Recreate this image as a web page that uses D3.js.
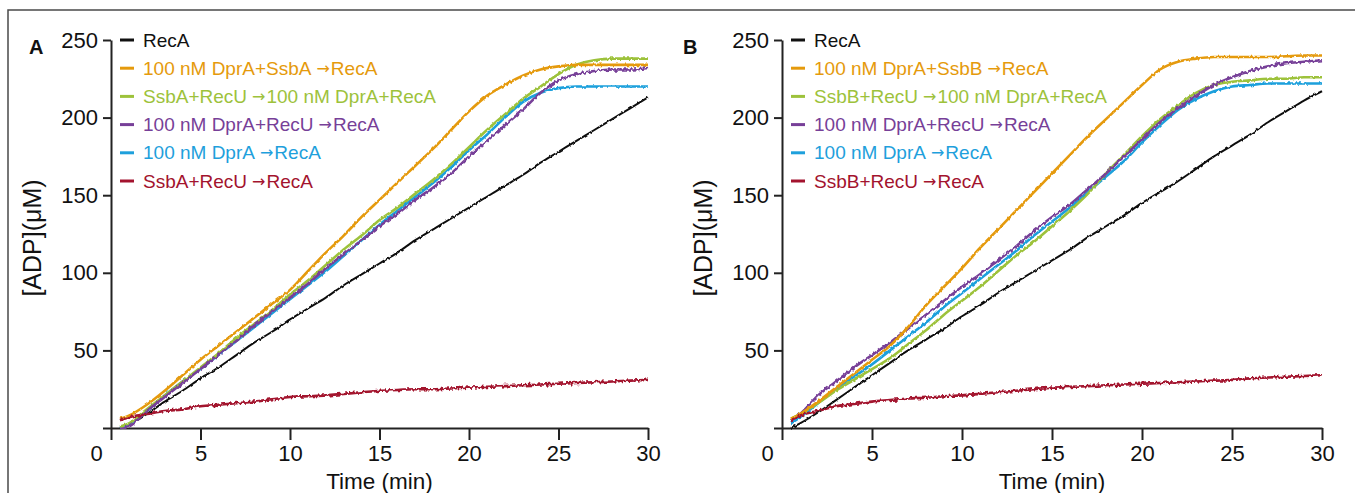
<!DOCTYPE html>
<html>
<head>
<meta charset="utf-8">
<script src="https://cdn.jsdelivr.net/npm/d3@7"></script>
<style>
  html, body { margin: 0; padding: 0; background: #fff; }
  svg text { font-family: "Liberation Sans", Arial, sans-serif; }
</style>
</head>
<body>
<div id="chart"></div>
<script>
// time grid (min) shared by every trace
const times = [0.5, 1, 2, 3, 4, 5, 6, 7, 8, 9, 10, 11, 12, 13, 14, 15, 16, 17, 18, 19, 20, 21, 22, 23, 24, 25, 26, 27, 28, 29, 30];

// panel A, [ADP] in uM
const recA_A   = [0, 2, 9, 17, 24, 32, 39, 47, 55, 62, 70, 77, 84, 92, 99, 106, 113, 121, 128, 135, 142, 149, 156, 163, 171, 178, 185, 192, 199, 206, 213];
const orange_A = [6, 8, 15, 24, 34, 44, 53, 62, 71, 80, 89, 101, 113, 124, 136, 147, 158, 169, 180, 192, 204, 214, 221, 227, 231, 233, 234, 234, 234, 234, 234];
const green_A  = [1, 3, 12, 21, 30, 39, 48, 58, 67, 76, 86, 95, 105, 115, 124, 134, 142, 151, 160, 170, 181, 192, 202, 212, 220, 228, 234, 237, 238, 238, 238];
const purple_A = [0, 1, 11, 20, 29, 38, 47, 56, 66, 75, 84, 93, 103, 112, 121, 130, 138, 147, 155, 164, 175, 185, 195, 205, 216, 224, 228, 230, 231, 231, 232];
const blue_A   = [0, 2, 11, 21, 30, 38, 47, 56, 65, 74, 83, 92, 101, 111, 121, 131, 140, 149, 158, 168, 179, 189, 200, 210, 216, 219, 220, 220, 220, 220, 220];
const red_A    = [5, 7, 9, 11, 12, 14, 15, 16, 17, 18.5, 20, 20.5, 21, 22, 23, 24, 24.5, 25, 25, 25.5, 26, 26.5, 27, 27.5, 28, 28.5, 29, 29.5, 30, 30.5, 31];

// panel B
const recA_B   = [0, 3, 10, 18, 26, 34, 42, 50, 57, 64, 72, 79, 87, 94, 101, 108, 115, 123, 130, 137, 145, 152, 159, 167, 175, 182, 189, 197, 204, 211, 217];
const orange_B = [6, 9, 17, 26, 35, 44, 53, 65, 79, 91, 103, 116, 128, 140, 152, 164, 176, 188, 199, 210, 221, 231, 236, 238, 239, 239, 239, 239, 239.5, 240, 240];
const green_B  = [6, 9, 16, 24, 31, 38, 45, 54, 63, 73, 82, 91, 101, 111, 120, 130, 140, 151, 164, 176, 188, 199, 208, 216, 221, 223, 224, 225, 225, 226, 226];
const purple_B = [5, 9, 21, 30, 39, 47, 55, 64, 73, 82, 91, 99, 108, 117, 127, 136, 144, 154, 164, 175, 186, 197, 206, 214, 221, 226, 230, 233, 235, 236, 237];
const blue_B   = [3, 7, 16, 25, 33, 41, 50, 59, 68, 78, 87, 96, 105, 114, 124, 133, 142, 152, 162, 172, 184, 195, 205, 212, 217, 220, 221, 222, 222, 222, 222];
const red_B    = [5, 8, 11, 14, 15.5, 17, 18, 19, 19.5, 20.5, 21, 22, 23, 24, 25, 26, 26.5, 27, 27.5, 28, 28.5, 29, 29.5, 30, 30.5, 31, 32, 32.5, 33, 33.5, 34];

const xTicks = [0, 5, 10, 15, 20, 25, 30];
const yTicks = [0, 50, 100, 150, 200, 250];

const labelsA = [
  ["RecA"],
  ["100 nM DprA+SsbA", "RecA"],
  ["SsbA+RecU", "100 nM DprA+RecA"],
  ["100 nM DprA+RecU", "RecA"],
  ["100 nM DprA", "RecA"],
  ["SsbA+RecU", "RecA"]
];
const labelsB = [
  ["RecA"],
  ["100 nM DprA+SsbB", "RecA"],
  ["SsbB+RecU", "100 nM DprA+RecA"],
  ["100 nM DprA+RecU", "RecA"],
  ["100 nM DprA", "RecA"],
  ["SsbB+RecU", "RecA"]
];
const colors = ["#111111", "#e59a0c", "#9dc23b", "#773f98", "#1ea0dc", "#a3132e"];

const width = 1355, height = 493;
const svg = d3.select("#chart").append("svg")
  .attr("width", width)
  .attr("height", height);

// jagged look of the recorded traces (vertical displacement only)
const defs = svg.append("defs");
function jitter(id, freq, amount) {
  const f = defs.append("filter").attr("id", id)
    .attr("x", "-2%").attr("y", "-5%").attr("width", "104%").attr("height", "110%");
  f.append("feTurbulence").attr("type", "fractalNoise")
    .attr("baseFrequency", freq).attr("numOctaves", 1).attr("seed", 3).attr("result", "n");
  f.append("feColorMatrix").attr("in", "n").attr("type", "matrix")
    .attr("values", "0 0 0 0 0.5  0 1 0 0 0  0 0 0 0 0  0 0 0 0 1").attr("result", "m");
  f.append("feDisplacementMap").attr("in", "SourceGraphic").attr("in2", "m")
    .attr("scale", amount).attr("xChannelSelector", "R").attr("yChannelSelector", "G");
}
jitter("jit", "0.45 0.2", 3.5);
jitter("jitStrong", "0.45 0.2", 6);

// outer frame
svg.append("rect")
  .attr("x", 8).attr("y", 10)
  .attr("width", width + 20).attr("height", height + 20)
  .attr("fill", "none").attr("stroke", "#4a4a4a").attr("stroke-width", 1.5);

function panel(cfg) {
  const x = d3.scaleLinear().domain([0, 30]).range([cfg.x0, cfg.x1]);
  const y = d3.scaleLinear().domain([0, 250]).range([428, 40]);
  const g = svg.append("g");

  // axes
  const ax = g.append("g")
    .attr("transform", `translate(0,${y(0)})`)
    .call(d3.axisBottom(x).tickValues(xTicks).tickSize(12).tickSizeOuter(0).tickPadding(5));
  ax.selectAll("text").attr("font-size", 22).attr("fill", "#111")
    .attr("dx", d => d === 0 ? -15 : 0);

  const ay = g.append("g")
    .attr("transform", `translate(${x(0)},0)`)
    .call(d3.axisLeft(y).tickValues(yTicks).tickSize(8).tickSizeOuter(0).tickPadding(5));
  ay.selectAll("text").attr("font-size", 22).attr("fill", "#111")
    .text(d => d === 0 ? "" : d);

  [ax, ay].forEach(a => {
    a.select(".domain").attr("stroke", "#222").attr("stroke-width", 2);
    a.selectAll(".tick line").attr("stroke", "#222").attr("stroke-width", 2);
  });

  // traces
  const line = d3.line()
    .x((d, i) => x(times[i]))
    .y(d => y(d))
    .curve(d3.curveMonotoneX);
  const order = [0, 4, 2, 3, 1, 5];
  order.forEach(k => {
    g.append("path")
      .datum(cfg.series[k])
      .attr("d", line)
      .attr("fill", "none")
      .attr("stroke", colors[k])
      .attr("stroke-width", k === 0 ? 2 : 2.6)
      .attr("stroke-linejoin", "round")
      .attr("filter", k === 3 || k === 5 ? "url(#jitStrong)" : "url(#jit)");
  });

  // legend
  cfg.labels.forEach((lab, i) => {
    const ly = 40 + i * 28.2;
    g.append("line")
      .attr("x1", cfg.x0 + 9).attr("x2", cfg.x0 + 23)
      .attr("y1", ly).attr("y2", ly)
      .attr("stroke", colors[i]).attr("stroke-width", 3);
    const t = g.append("text")
      .attr("x", cfg.x0 + 32).attr("y", ly + 6.5)
      .attr("font-size", 19).attr("fill", colors[i]);
    t.append("tspan").text(lab[0]);
    if (lab.length > 1) {
      t.append("tspan").attr("dx", 5).attr("font-family", "DejaVu Sans").attr("font-size", 16)
        .attr("dy", -1).text("\u2192");
      t.append("tspan").attr("dx", 1).attr("dy", 1).text(lab[1]);
    }
  });

  // panel letter
  svg.append("text")
    .attr("x", cfg.letterX).attr("y", 54)
    .attr("font-size", 20).attr("font-weight", "bold").attr("fill", "#111")
    .text(cfg.letter);

  // axis titles
  svg.append("text")
    .attr("transform", `translate(${cfg.x0 - 70},${(y(0) + y(250)) / 2 + 4}) rotate(-90)`)
    .attr("text-anchor", "middle").attr("font-size", 25).attr("fill", "#111")
    .text("[ADP](\u03bcM)");
  svg.append("text")
    .attr("x", (cfg.x0 + cfg.x1) / 2).attr("y", 489)
    .attr("text-anchor", "middle").attr("font-size", 22.5).attr("fill", "#111")
    .text("Time (min)");
}

panel({ letter: "A", letterX: 29, x0: 111, x1: 648, labels: labelsA,
        series: [recA_A, orange_A, green_A, purple_A, blue_A, red_A] });
panel({ letter: "B", letterX: 683, x0: 782, x1: 1322, labels: labelsB,
        series: [recA_B, orange_B, green_B, purple_B, blue_B, red_B] });
</script>
</body>
</html>
